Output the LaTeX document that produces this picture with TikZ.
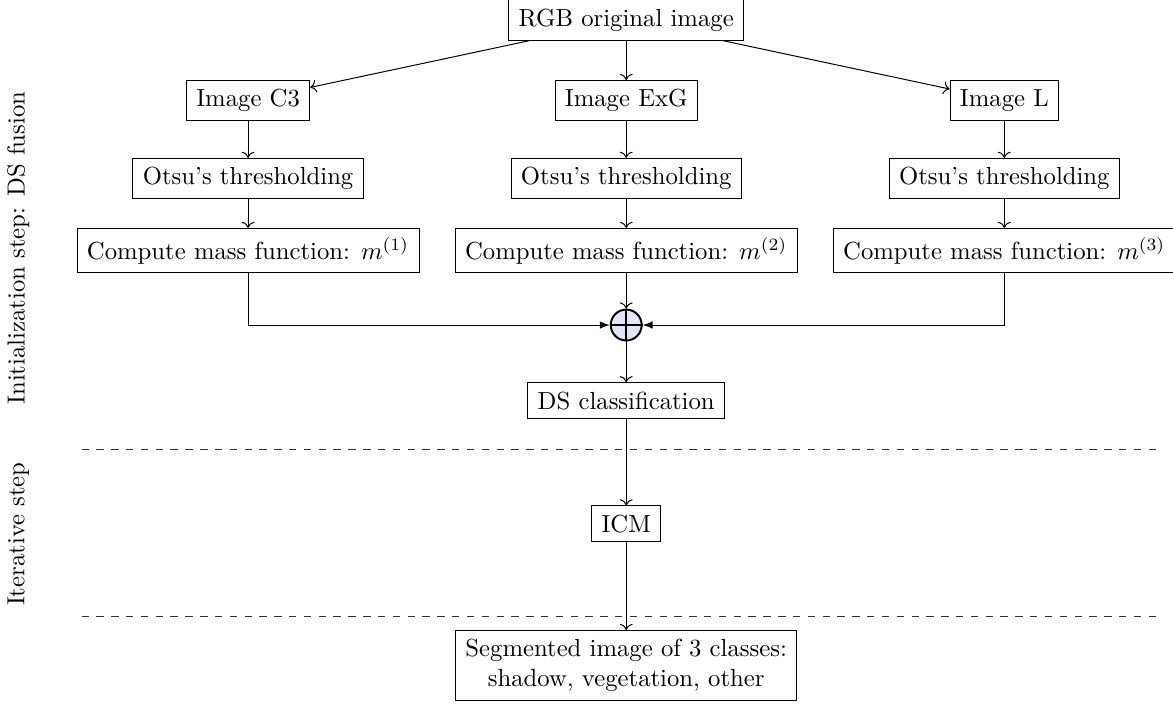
\documentclass[tikz,border=0pt]{standalone}
\usepackage{amsmath}
\usepackage{xcolor}
\usepackage{tikz}
\usetikzlibrary{arrows.meta,positioning}
\definecolor{fusefill}{rgb}{0.90,0.90,0.96}

\begin{document}
\begin{tikzpicture}[
  every node/.style={align=center},
  arrow/.style={->},
  merge/.style={-latex},
  box/.style={rectangle,draw=black,inner xsep=4pt,inner ysep=3.6pt},
  fusion/.style={circle,draw=black,thick,fill=fusefill,minimum size=4.4mm,inner sep=0pt},
  sidelabel/.style={rotate=90},
  sep/.style={dashed,draw=black!80}
]
\useasboundingbox (0,0) rectangle (16.69,-10.02);

\node[box] (rgb) at (8.91,-0.285) {RGB original image};

% middle column
\node[box,below=5.6mm of rgb]  (exg)   {Image ExG};
\node[box,below=5.2mm of exg]    (otsu2) {Otsu's thresholding};
\node[box,below=4.1mm of otsu2] (mass2) {Compute mass function: $m^{(2)}$};
\node[fusion,below=5mm of mass2] (fuse) {};
\node[box,below=5.8mm of fuse]   (dscl)  {DS classification};
\node[box,below=12.3mm of dscl] (icm)  {ICM};
\node[box,below=12.5mm of icm] (seg)   {Segmented image of 3 classes:\\ shadow, vegetation, other};

% side columns
\node[box,xshift=-5.38cm] (c3)    at (exg)   {Image C3};
\node[box,xshift=-5.38cm] (otsu1) at (otsu2) {Otsu's thresholding};
\node[box,xshift=-5.38cm] (mass1) at (mass2) {Compute mass function: $m^{(1)}$};
\node[box,xshift=5.38cm]  (lum)   at (exg)   {Image L};
\node[box,xshift=5.38cm]  (otsu3) at (otsu2) {Otsu's thresholding};
\node[box,xshift=5.38cm]  (mass3) at (mass2) {Compute mass function: $m^{(3)}$};

\draw[thick] (fuse.north) -- (fuse.south) (fuse.west) -- (fuse.east);

% step labels
\node[sidelabel] (initlbl) at (0.26,-3.53) {Initialization step: DS fusion};
\node[sidelabel] (iterlbl) at (0.26,-7.6)  {Iterative step};

\draw[sep] (1.16,-6.39) -- (16.5,-6.39);
\draw[sep] (1.16,-8.77) -- (16.5,-8.77);

\foreach \f in {c3,exg,lum} { \draw[arrow] (rgb) -- (\f); }
\draw[arrow] (c3) -- (otsu1);
\draw[arrow] (exg) -- (otsu2);
\draw[arrow] (lum) -- (otsu3);
\draw[arrow] (otsu1) -- (mass1);
\draw[arrow] (otsu2) -- (mass2);
\draw[arrow] (otsu3) -- (mass3);
\draw[arrow] (mass2) -- (fuse);
\draw[merge] (mass1.south) |- (fuse.west);
\draw[merge] (mass3.south) |- (fuse.east);
\draw[arrow] (fuse) -- (dscl);
\draw[arrow] (dscl) -- (icm);
\draw[arrow] (icm) -- (seg);

\end{tikzpicture}
\end{document}
